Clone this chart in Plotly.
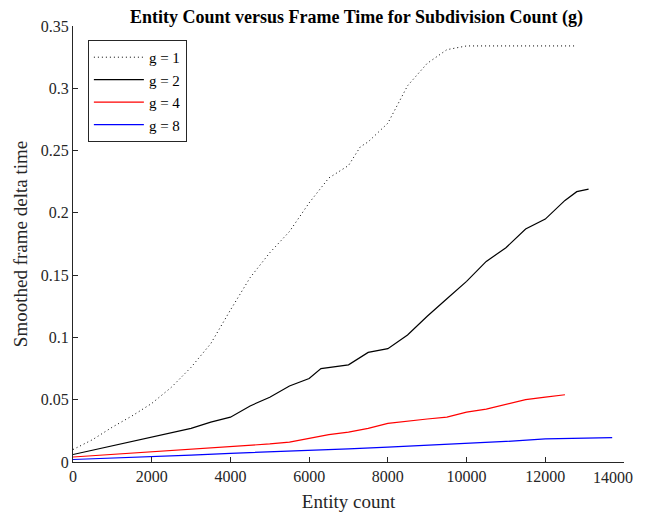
import plotly.graph_objects as go

# g = 1 (dotted)
g1_x = [0, 500, 1000, 1500, 2000, 2500, 3000, 3500, 4000, 4500, 5000, 5500, 6000,
        6500, 7000, 7300, 7500, 8000, 8500, 9000, 9500, 10000, 10500, 11000, 11500, 12000, 12500, 12800]
g1_y = [0.010, 0.018, 0.028, 0.037, 0.047, 0.060, 0.076, 0.095, 0.122, 0.148, 0.168, 0.185, 0.208,
        0.228, 0.238, 0.253, 0.257, 0.272, 0.302, 0.320, 0.331, 0.334, 0.334, 0.334, 0.334, 0.334, 0.334, 0.334]

# g = 2 (solid black)
g2_x = [0, 500, 1000, 1500, 2000, 2500, 3000, 3500, 4000, 4500, 5000, 5500, 6000, 6300, 6500,
        7000, 7500, 8000, 8500, 9000, 9500, 10000, 10500, 11000, 11500, 12000, 12500, 12800, 13100]
g2_y = [0.006, 0.0095, 0.013, 0.016, 0.020, 0.023, 0.027, 0.032, 0.036, 0.045, 0.052, 0.061, 0.067, 0.075, 0.076,
        0.078, 0.088, 0.091, 0.102, 0.117, 0.131, 0.145, 0.161, 0.172, 0.187, 0.195, 0.210, 0.217, 0.219]

# g = 4 (red)
g4_x = [0, 1000, 2000, 3000, 4000, 5000, 5500, 6000, 6500, 7000, 7500, 8000, 8500, 9000,
        9500, 10000, 10500, 11000, 11500, 12000, 12500]
g4_y = [0.004, 0.006, 0.008, 0.010, 0.012, 0.0145, 0.016, 0.019, 0.022, 0.024, 0.027, 0.031, 0.033, 0.0345,
        0.036, 0.040, 0.0425, 0.046, 0.050, 0.052, 0.054]

# g = 8 (blue)
g8_x = [0, 1000, 2000, 3000, 4000, 5000, 6000, 7000, 8000, 9000, 10000, 11000, 12000, 13000, 13700]
g8_y = [0.002, 0.003, 0.0045, 0.0055, 0.007, 0.008, 0.009, 0.0105, 0.012, 0.0135, 0.0145, 0.0165,
        0.0185, 0.019, 0.0195]

x_ticks = [0, 2000, 4000, 6000, 8000, 10000, 12000, 14000]
x_tick_labels = ["0", "2000", "4000", "6000", "8000", "10000", "12000", ""]
x_last_label = "14000"
y_ticks = [0, 0.05, 0.1, 0.15, 0.2, 0.25, 0.3, 0.35]
y_tick_labels = ["0", "0.05", "0.1", "0.15", "0.2", "0.25", "0.3", "0.35"]

FONT = "Liberation Serif"
AX = "#262626"
tickfont = dict(family=FONT, size=16, color=AX)

fig = go.Figure()
fig.add_trace(go.Scatter(x=g1_x, y=g1_y, mode="lines", name="g = 1",
                         line=dict(color="black", width=1, dash="1px,3px")))
fig.add_trace(go.Scatter(x=g2_x, y=g2_y, mode="lines", name="g = 2",
                         line=dict(color="black", width=1.2)))
fig.add_trace(go.Scatter(x=g4_x, y=g4_y, mode="lines", name="g = 4",
                         line=dict(color="red", width=1.2)))
fig.add_trace(go.Scatter(x=g8_x, y=g8_y, mode="lines", name="g = 8",
                         line=dict(color="blue", width=1.2)))

fig.add_annotation(x=x_ticks[-1], xref="x", y=0, yref="paper", text=x_last_label,
                   showarrow=False, xanchor="center", yanchor="top", xshift=-11, yshift=-5,
                   font=tickfont)

fig.update_layout(
    width=646, height=519,
    margin=dict(l=65, r=30, t=18, b=65, autoexpand=False),
    paper_bgcolor="white", plot_bgcolor="white",
    font=dict(family=FONT, size=16, color=AX),
    title=dict(text="<b>Entity Count versus Frame Time for Subdivision Count (g)</b>",
               x=0.5395, xanchor="center", y=0.9836, yanchor="middle",
               font=dict(family=FONT, size=18, color="black")),
    showlegend=True,
    legend=dict(x=0.027, y=0.968, xanchor="left", yanchor="top",
                bgcolor="white", bordercolor=AX, borderwidth=1,
                font=dict(family=FONT, size=15, color="black"),
                tracegroupgap=0, itemwidth=50),
)
fig.update_xaxes(range=[0, 14000], tickvals=x_ticks, ticktext=x_tick_labels, ticks="inside", ticklen=5,
                 showline=True, linecolor=AX, linewidth=1, tickcolor=AX, tickfont=tickfont,
                 showgrid=False, zeroline=False, automargin=False,
                 title=dict(text="Entity count", font=dict(family=FONT, size=19, color=AX), standoff=10))
fig.update_yaxes(range=[0, 0.35], tickvals=y_ticks, ticktext=y_tick_labels, ticks="inside", ticklen=5,
                 showline=True, linecolor=AX, linewidth=1, tickcolor=AX, tickfont=tickfont,
                 showgrid=False, zeroline=False, automargin=False,
                 title=dict(text="Smoothed frame delta time", font=dict(family=FONT, size=19, color=AX), standoff=8))

fig.write_html("out.html")
